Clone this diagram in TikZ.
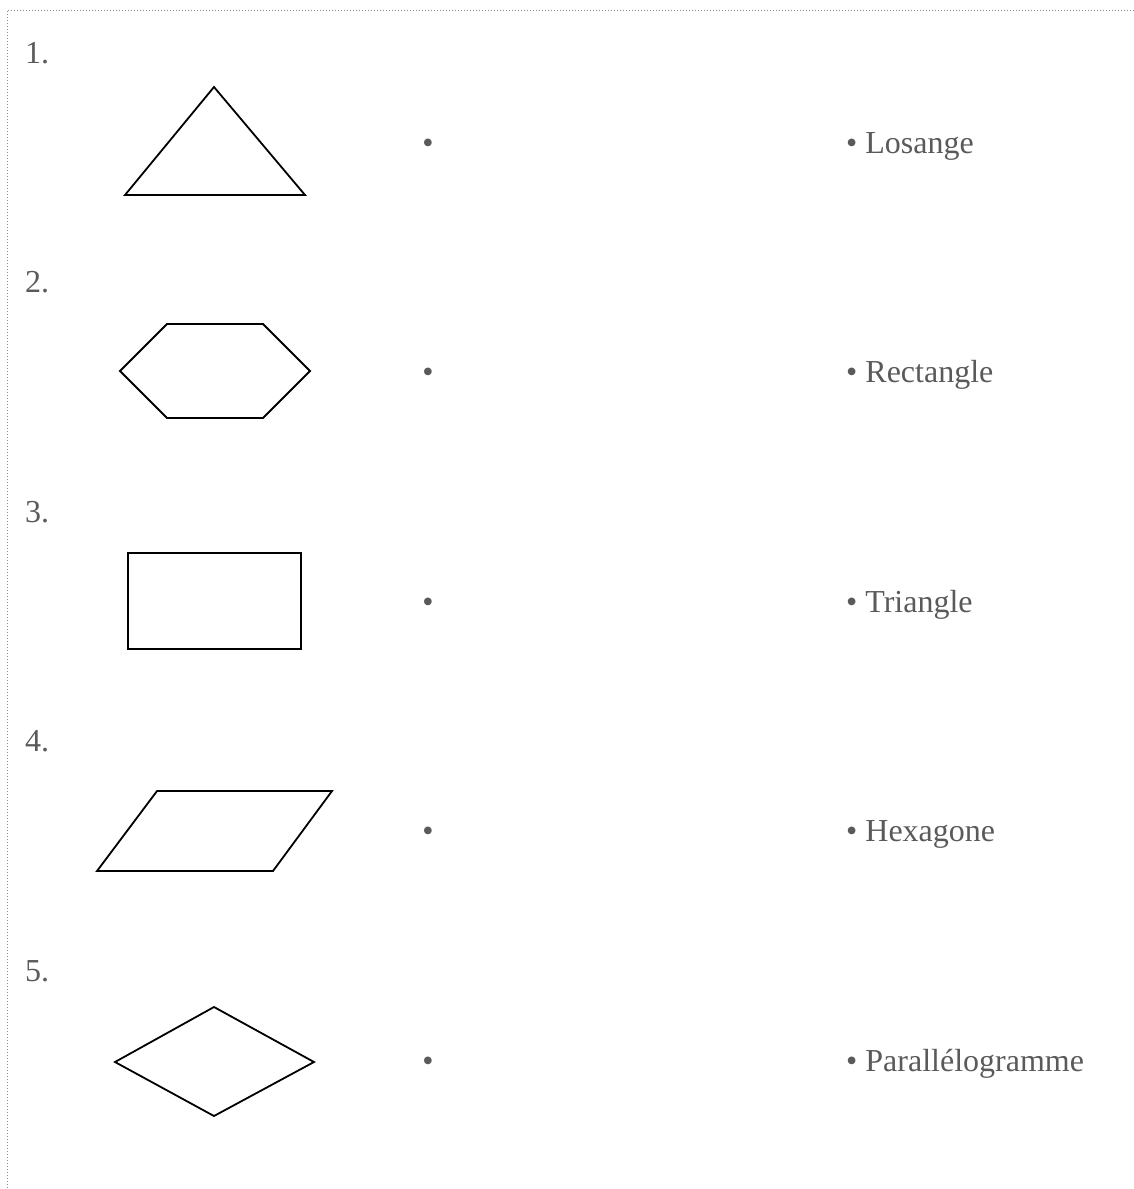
\documentclass[tikz,border=0pt]{standalone}
\usepackage{fontspec}
\setmainfont{Liberation Serif}
\usepackage{xcolor}
\usetikzlibrary{positioning}
\definecolor{cInk}{HTML}{5A5A5A}
\definecolor{cFrame}{HTML}{8A8A8A}
\tikzset{
  num/.style={anchor=base west, inner sep=0pt, text=cInk, font=\fontsize{32}{38}\selectfont},
  dotmark/.style={anchor=base, inner sep=0pt, text=cInk, font=\fontsize{32}{38}\selectfont},
  lbl/.style={anchor=base west, inner sep=0pt, text=cInk, font=\fontsize{32}{38}\selectfont},
  fig/.style={draw=black, line width=1.8pt, line join=miter},
  frame/.style={cFrame, dotted, line width=1pt}
}
\begin{document}
\begin{tikzpicture}[x=1pt, y=-1pt]
\useasboundingbox (0,0) rectangle (1134,1189);
% cadre
\coordinate (fTL) at (7,10);
\coordinate (fTR) at (1134,10);
\coordinate (fBL) at (7,1189);
\draw[frame] (fTR) -- (fTL) -- (fBL);
% numeros, points et noms
\foreach \i/\name in {1/Losange, 2/Rectangle, 3/Triangle, 4/Hexagone, 5/Parallélogramme}{
  \pgfmathsetmacro{\yb}{63+229.5*(\i-1)}
  \node[num] (n\i) at (25,\yb) {\i.};
  \node[dotmark] (d\i) at (428,\yb+90) {•};
  \node[lbl] (l\i) at (846,\yb+90) {• \name};
}
% figures
\draw[fig] (214,87) -- (305,195) -- (125,195) -- cycle;
\draw[fig] (120,371) -- (167,324) -- (263,324) -- (310,371) -- (263,418) -- (167,418) -- cycle;
\draw[fig] (128,553) rectangle (301,649);
\draw[fig] (97,871) -- (157,791) -- (332,791) -- (273,871) -- cycle;
\draw[fig] (115,1062) -- (214,1007) -- (314,1062) -- (214,1116) -- cycle;
\end{tikzpicture}
\end{document}
